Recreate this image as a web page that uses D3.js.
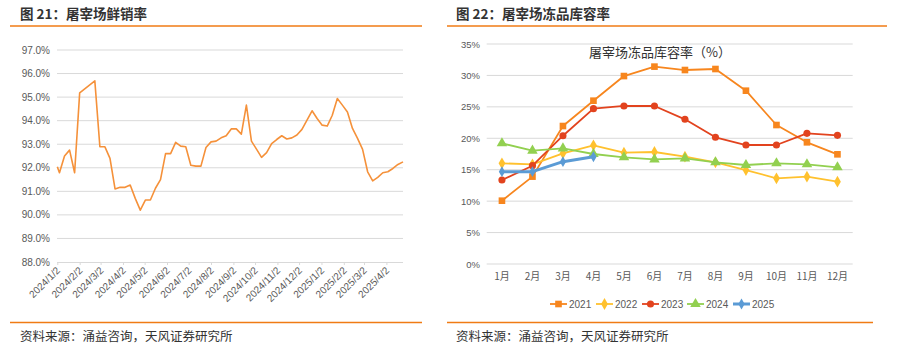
<!DOCTYPE html>
<html><head><meta charset="utf-8">
<script src="https://cdn.jsdelivr.net/npm/d3@7"></script>
<style>
body{margin:0;background:#fff;}
svg{display:block;}
</style></head>
<body>
<svg id="c" width="897" height="360"></svg>
<script>
// ---------- Data: left chart (屠宰场鲜销率, weekly) ----------
const freshDates = ["2024-01-02","2024-01-05","2024-01-12","2024-01-19","2024-01-26","2024-02-02","2024-02-23","2024-03-01","2024-03-08","2024-03-15","2024-03-22","2024-03-29","2024-04-05","2024-04-12","2024-04-19","2024-04-26","2024-05-03","2024-05-10","2024-05-17","2024-05-24","2024-05-31","2024-06-07","2024-06-14","2024-06-21","2024-06-28","2024-07-05","2024-07-12","2024-07-19","2024-07-26","2024-08-02","2024-08-09","2024-08-16","2024-08-23","2024-08-30","2024-09-06","2024-09-13","2024-09-20","2024-09-27","2024-10-04","2024-10-11","2024-10-18","2024-10-25","2024-11-01","2024-11-08","2024-11-15","2024-11-22","2024-11-29","2024-12-06","2024-12-13","2024-12-20","2024-12-27","2025-01-03","2025-01-10","2025-01-17","2025-01-24","2025-01-31","2025-02-07","2025-02-14","2025-02-21","2025-02-28","2025-03-07","2025-03-14","2025-03-21","2025-03-28","2025-04-04","2025-04-11","2025-04-18","2025-04-25"];
const freshValues = [92.04,91.79,92.5,92.75,91.79,95.18,95.69,92.89,92.89,92.4,91.1,91.17,91.17,91.27,90.7,90.2,90.63,90.63,91.13,91.5,92.6,92.6,93.08,92.92,92.89,92.11,92.07,92.07,92.86,93.1,93.13,93.27,93.36,93.65,93.65,93.43,94.66,93.13,92.79,92.44,92.64,93.03,93.2,93.36,93.22,93.27,93.39,93.63,94.02,94.42,94.09,93.81,93.77,94.23,94.94,94.66,94.37,93.67,93.25,92.78,91.83,91.44,91.59,91.79,91.83,91.97,92.14,92.25];
const freshYTicks = [88,89,90,91,92,93,94,95,96,97];
const freshXTicks = ["2024-01-02","2024-02-02","2024-03-02","2024-04-02","2024-05-02","2024-06-02","2024-07-02","2024-08-02","2024-09-02","2024-10-02","2024-11-02","2024-12-02","2025-01-02","2025-02-02","2025-03-02","2025-04-02"];

// ---------- Data: right chart (屠宰场冻品库容率, monthly) ----------
const months = ["1月","2月","3月","4月","5月","6月","7月","8月","9月","10月","11月","12月"];
const s2021 = [10.07,13.9,21.95,25.98,29.9,31.4,30.86,31.02,27.57,22.11,19.36,17.45];
const s2022 = [16.02,15.86,17.61,18.88,17.71,17.82,17.07,16.18,14.95,13.63,13.89,13.1];
const s2023 = [13.36,15.64,20.41,24.71,25.14,25.14,23.02,20.16,18.93,18.93,20.79,20.47];
const s2024 = [19.2,18.03,18.4,17.5,16.97,16.65,16.81,16.18,15.75,16.02,15.86,15.38];
const s2025 = [14.69,14.69,16.28,17.07];
const seriesNames = ["2021","2022","2023","2024","2025"];
const frozenYTicks = [0,5,10,15,20,25,30,35];

const svg = d3.select("#c");
const CJK = "'Noto Sans CJK SC','Noto Sans',sans-serif";
const NUM = "'Liberation Sans','Noto Sans',sans-serif";
const ORANGE = "#F07B14";
const GRID = "#D9D9D9";
const LABEL = "#595959";

// ---------- Frame: titles, rules, sources ----------
svg.append("text").attr("x",20).attr("y",19).attr("font-family",CJK).attr("font-size",13.5)
  .attr("font-weight","bold").attr("fill","#333").text("图 21：屠宰场鲜销率");
svg.append("text").attr("x",456).attr("y",19).attr("font-family",CJK).attr("font-size",13.5)
  .attr("font-weight","bold").attr("fill","#333").text("图 22：屠宰场冻品库容率");
[[10,422,26],[447,887,26],[10,422,322.5],[447,873,322.5]].forEach(d=>{
  svg.append("line").attr("x1",d[0]).attr("x2",d[1]).attr("y1",d[2]).attr("y2",d[2])
    .attr("stroke",ORANGE).attr("stroke-width",1.5);
});
svg.append("text").attr("x",20).attr("y",341).attr("font-family",CJK).attr("font-size",12.5)
  .attr("fill","#333").text("资料来源：涌益咨询，天风证券研究所");
svg.append("text").attr("x",456).attr("y",341).attr("font-family",CJK).attr("font-size",12.5)
  .attr("fill","#333").text("资料来源：涌益咨询，天风证券研究所");

// ---------- Left chart ----------
const parse = d3.timeParse("%Y-%m-%d");
const xL = d3.scaleTime().domain([parse("2024-01-02"), parse("2025-04-25")]).range([57.3, 403]);
const yL = d3.scaleLinear().domain([88,97]).range([262,50]);
const gL = svg.append("g");
gL.selectAll(".gl").data(freshYTicks.filter(d=>d>88)).join("line")
  .attr("x1",57).attr("x2",403).attr("y1",d=>yL(d)).attr("y2",d=>yL(d))
  .attr("stroke",GRID).attr("stroke-width",1);
const axL = d3.axisBottom(xL).tickValues(freshXTicks.map(parse)).tickSize(3).tickSizeOuter(0)
  .tickFormat(d3.timeFormat("%Y/%-m/%-d"));
const axLg = gL.append("g").attr("transform",`translate(0,${yL(88)})`).call(axL);
axLg.select(".domain").attr("stroke",GRID).attr("d","M57,0.5H403");
axLg.selectAll(".tick line").attr("stroke",GRID);
axLg.selectAll(".tick text").attr("font-family",NUM).attr("font-size",10).attr("fill",LABEL)
  .attr("text-anchor","end").attr("dy",0).attr("y",0)
  .attr("transform","translate(3,9) rotate(-45)");
gL.selectAll(".yl").data(freshYTicks).join("text")
  .attr("x",50).attr("y",d=>yL(d)+3.5).attr("text-anchor","end")
  .attr("font-family",NUM).attr("font-size",10).attr("fill",LABEL)
  .text(d=>d.toFixed(1)+"%");
const freshData = freshDates.map((d,i)=>({d:parse(d), v:freshValues[i]}));
gL.append("path").datum(freshData)
  .attr("d", d3.line().x(d=>xL(d.d)).y(d=>yL(d.v)))
  .attr("fill","none").attr("stroke","#F5913A").attr("stroke-width",1.6).attr("stroke-linejoin","round");

// ---------- Right chart ----------
const xR = d3.scaleBand().domain(months).range([486.7, 852.7]);
const yR = d3.scaleLinear().domain([0,35]).range([264,44]);
const gR = svg.append("g");
gR.selectAll(".gr").data(frozenYTicks).join("line")
  .attr("x1",486.7).attr("x2",852.7).attr("y1",d=>yR(d)).attr("y2",d=>yR(d))
  .attr("stroke",GRID).attr("stroke-width",1);
gR.selectAll(".yr").data(frozenYTicks).join("text")
  .attr("x",480).attr("y",d=>yR(d)+3.5).attr("text-anchor","end")
  .attr("font-family","'Liberation Sans Narrow','Liberation Sans',sans-serif").attr("font-size",9.5)
  .attr("fill",LABEL).text(d=>d+"%");
const axR = d3.axisBottom(xR).tickSize(0).tickPadding(9);
const axRg = gR.append("g").attr("transform",`translate(0,${yR(0)})`).call(axR);
axRg.select(".domain").remove();
axRg.selectAll(".tick text").attr("font-family",CJK).attr("font-size",10).attr("fill",LABEL);

gR.append("text").attr("x",589).attr("y",57).attr("font-family",CJK).attr("font-size",13)
  .attr("fill","#333").text("屠宰场冻品库容率（%）");

const colors = ["#F7861E","#FFC12E","#E2431E","#92D050","#5B9BD5"];
const shapes = [d3.symbolSquare, d3.symbolDiamond, d3.symbolCircle, d3.symbolTriangle, d3.symbolDiamond];
const sizes = [44, 40, 40, 48, 34];
const widths = [1.8,1.8,1.8,1.8,3];
const allSeries = [s2021,s2022,s2023,s2024,s2025];
const cx = m => xR(m) + xR.bandwidth()/2;
allSeries.forEach((s,k)=>{
  const pts = s.map((v,i)=>({m:months[i], v}));
  gR.append("path").datum(pts)
    .attr("d", d3.line().x(d=>cx(d.m)).y(d=>yR(d.v)))
    .attr("fill","none").attr("stroke",colors[k]).attr("stroke-width",widths[k]).attr("stroke-linejoin","round");
  gR.selectAll(null).data(pts).join("path")
    .attr("transform",d=>`translate(${cx(d.m)},${yR(d.v)})`)
    .attr("d", d3.symbol().type(shapes[k]).size(sizes[k]))
    .attr("fill",colors[k]);
});

// legend
const legX = [550, 596, 642, 687, 733];
seriesNames.forEach((n,k)=>{
  const g = gR.append("g").attr("transform",`translate(${legX[k]},304)`);
  g.append("line").attr("x1",0).attr("x2",17).attr("y1",0).attr("y2",0)
    .attr("stroke",colors[k]).attr("stroke-width",widths[k]);
  g.append("path").attr("transform","translate(8.5,0)")
    .attr("d", d3.symbol().type(shapes[k]).size(sizes[k])).attr("fill",colors[k]);
  g.append("text").attr("x",19).attr("y",3.8).attr("font-family",NUM).attr("font-size",10)
    .attr("fill",LABEL).text(n);
});
</script>
</body></html>
